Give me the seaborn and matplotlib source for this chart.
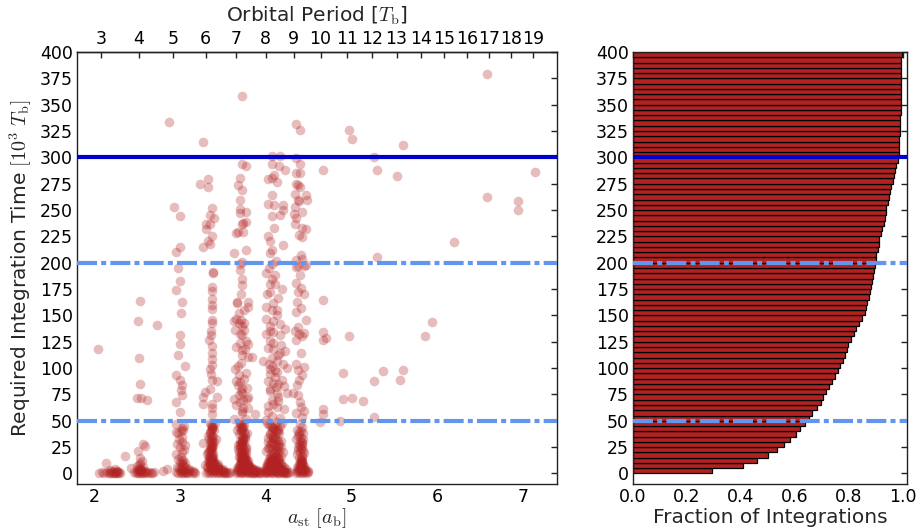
import numpy as np
import pandas as pd
import matplotlib
matplotlib.use("Agg")
import matplotlib.pyplot as plt
from matplotlib.ticker import MultipleLocator
import seaborn as sns

# ---------------- data ----------------
# group A (a ~ 2.0-2.35)
a_grpA = [2.06, 2.09, 2.12, 2.15, 2.17, 2.19, 2.20, 2.21, 2.22, 2.23, 2.24, 2.25, 2.26, 2.27, 2.28, 2.29, 2.30,
          2.18, 2.24, 2.14, 2.36, 2.04, 2.27]
t_grpA = [0, 1, 0, 1, 0, 0, 2, 0, 1, 0, 0, 2, 0, 1, 0, 1, 0,
          3, 4, 10, 17, 118, 2]

# group B (a ~ 2.4-2.75)
a_grpB = [2.47, 2.49, 2.50, 2.51, 2.52, 2.53, 2.54, 2.55, 2.56, 2.57, 2.58, 2.59, 2.60, 2.62, 2.64, 2.66, 2.68, 2.70,
          2.51, 2.53, 2.55, 2.57, 2.52, 2.54, 2.56, 2.50, 2.53, 2.43, 2.55, 2.52,
          2.51, 2.57, 2.59, 2.50, 2.55, 2.62, 2.53, 2.52, 2.51, 2.53, 2.73]
t_grpB = [1, 0, 2, 0, 1, 3, 0, 2, 0, 1, 0, 2, 1, 0, 1, 0, 0, 1,
          4, 5, 3, 6, 8, 10, 12, 7, 15, 5, 4, 3,
          21, 28, 26, 72, 72, 70, 85, 110, 145, 164, 141]

# group C (a ~ 2.9-3.2)
a_grpC = [2.96, 2.98, 3.00, 3.01, 3.02, 3.03, 3.04, 3.05, 3.06, 3.07, 3.08, 3.10, 3.12, 3.14, 3.16, 3.18,
          2.99, 3.01, 3.03, 3.05, 3.07, 3.09, 3.02, 3.04, 2.97, 3.00, 3.03, 3.06, 3.11, 3.15,
          2.98, 3.01, 3.04, 2.95, 3.02, 3.05, 3.00, 2.97, 3.03, 3.06, 2.99, 3.02, 2.96, 3.04, 3.01,
          2.98, 3.05, 2.95, 3.02, 2.85, 2.80,
          3.00, 2.96, 3.03, 3.00, 3.00, 3.06, 2.96, 3.00, 3.02, 3.03, 2.96, 3.00, 2.93, 3.00, 3.00,
          2.96, 2.87, 3.01, 2.98, 3.01, 2.98]
t_grpC = [1, 0, 2, 0, 1, 3, 0, 2, 1, 0, 1, 0, 2, 0, 1, 0,
          5, 6, 4, 7, 5, 3, 9, 8, 6, 11, 12, 10, 4, 2,
          14, 16, 13, 18, 20, 22, 25, 28, 30, 27, 33, 35, 39, 41, 40,
          38, 45, 47, 43, 4, 2,
          183, 174, 163, 131, 123, 102, 93, 89, 84, 74, 68, 58, 253, 244, 215,
          210, 334, 152, 112, 79, 195]

# group D (a ~ 3.25-3.6)
a_grpD = [3.23, 3.33, 3.33, 3.27, 3.37, 3.35, 3.40, 3.35, 3.31, 3.31, 3.37, 3.33, 3.35, 3.27, 3.39, 3.39,
          3.37, 3.37, 3.37, 3.37, 3.37, 3.37, 3.36, 3.37, 3.37, 3.35, 3.36, 3.37, 3.43, 3.35, 3.29, 3.27,
          3.43, 3.37, 3.27, 3.37, 3.37, 3.37, 3.38, 3.34, 3.36, 3.38,
          3.35, 3.36, 3.37, 3.38, 3.36, 3.35, 3.37, 3.39, 3.34, 3.36, 3.38, 3.35, 3.37, 3.27, 3.36,
          3.38, 3.35, 3.37, 3.33, 3.36, 3.39, 3.34, 3.37, 3.35, 3.38, 3.36, 3.33, 3.40, 3.37, 3.35,
          3.31, 3.33, 3.35, 3.37, 3.39, 3.41, 3.43, 3.45, 3.47, 3.49, 3.51, 3.53, 3.55, 3.57, 3.59,
          3.34, 3.36, 3.38, 3.40, 3.42, 3.44, 3.46, 3.48, 3.50, 3.52, 3.54, 3.33, 3.35, 3.37, 3.39,
          3.41, 3.43, 3.45, 3.47, 3.49, 3.36, 3.38, 3.40, 3.42, 3.44, 3.34, 3.36, 3.38, 3.40, 3.35,
          3.37, 3.39, 3.29, 3.32, 3.35, 3.38, 3.41, 3.44, 3.50,
          3.32, 3.34, 3.36, 3.38, 3.40, 3.42, 3.33, 3.35, 3.37, 3.39, 3.41, 3.34, 3.36, 3.38, 3.40,
          3.35, 3.37, 3.39, 3.36, 3.38]
t_grpD = [275, 279, 272, 315, 252, 245, 242, 237, 237, 232, 225, 221, 218, 215, 191, 190,
          177, 173, 166, 156, 146, 143, 131, 121, 109, 99, 94, 89, 88, 80, 77, 73,
          73, 66, 66, 62, 56, 103, 114, 127, 135, 160,
          48, 46, 44, 42, 40, 38, 36, 35, 33, 31, 30, 28, 27, 29, 25,
          24, 22, 21, 20, 19, 18, 17, 16, 15, 14, 13, 12, 12, 11, 10,
          0, 1, 0, 2, 0, 1, 0, 1, 0, 2, 0, 1, 0, 0, 1,
          3, 2, 4, 3, 2, 4, 3, 1, 2, 0, 1, 6, 5, 7, 6,
          5, 8, 6, 4, 3, 9, 8, 10, 7, 9, 11, 13, 12, 10, 15,
          14, 16, 8, 6, 9, 5, 7, 6, 4,
          18, 21, 24, 27, 30, 33, 36, 39, 42, 45, 48, 15, 23, 32, 41,
          9, 17, 26, 35, 44]

# group E (a ~ 3.62-3.96)
a_grpE = [3.73, 3.73, 3.77, 3.70, 3.68, 3.72, 3.70, 3.70, 3.70, 3.77, 3.72, 3.74, 3.77, 3.66, 3.68, 3.74,
          3.77, 3.63, 3.70, 3.73, 3.70, 3.73, 3.73, 3.67, 3.67, 3.80, 3.80, 3.66, 3.71, 3.75, 3.69, 3.63,
          3.64, 3.75, 3.73, 3.77, 3.80, 3.70, 3.66, 3.72, 3.80, 3.84, 3.64, 3.70, 3.68, 3.72, 3.78, 3.73,
          3.69, 3.78, 3.63, 3.70, 3.74, 3.80, 3.72, 3.88, 3.63, 3.70, 3.77, 3.71, 3.69, 3.75,
          3.66, 3.74, 3.71, 3.77, 3.68, 3.73, 3.76, 3.70, 3.73, 3.69, 3.75, 3.71, 3.72, 3.79, 3.66,
          3.70, 3.72, 3.74, 3.71, 3.73, 3.75, 3.69, 3.72, 3.74, 3.76, 3.70, 3.73, 3.71, 3.75, 3.68,
          3.72, 3.74, 3.70, 3.77, 3.73, 3.71, 3.69, 3.75, 3.72, 3.74, 3.70, 3.76, 3.73, 3.71, 3.78,
          3.66, 3.68, 3.70, 3.72, 3.74, 3.76, 3.78, 3.80, 3.82, 3.84, 3.86, 3.88, 3.90, 3.92, 3.94,
          3.96, 3.67, 3.69, 3.71, 3.73, 3.75, 3.77, 3.79, 3.81, 3.83, 3.85, 3.87, 3.89, 3.91, 3.93,
          3.68, 3.70, 3.72, 3.74, 3.76, 3.78, 3.80, 3.82, 3.84, 3.86, 3.88, 3.90, 3.69, 3.71, 3.73,
          3.75, 3.77, 3.79, 3.81, 3.83, 3.85, 3.70, 3.72, 3.74, 3.76, 3.78, 3.80, 3.82, 3.71, 3.73,
          3.75, 3.77, 3.79, 3.72, 3.74, 3.76, 3.73, 3.75, 3.71, 3.77,
          3.67, 3.69, 3.71, 3.73, 3.75, 3.77, 3.79, 3.81, 3.68, 3.70, 3.72, 3.74, 3.76, 3.78, 3.80,
          3.67, 3.69, 3.71, 3.73, 3.75, 3.77, 3.70, 3.72, 3.74, 3.76, 3.71, 3.73, 3.75, 3.69, 3.77]
t_grpE = [358, 294, 292, 280, 274, 269, 260, 251, 247, 248, 237, 238, 239, 228, 229, 229,
          212, 209, 199, 201, 193, 185, 179, 163, 162, 163, 158, 147, 146, 143, 143, 145,
          136, 136, 131, 126, 123, 124, 120, 117, 111, 111, 99, 87, 84, 81, 81, 76,
          74, 71, 71, 68, 62, 62, 57, 56, 52, 49, 52, 105, 93, 90,
          65, 70, 78, 95, 102, 112, 118, 132, 140, 152, 155, 170, 59, 73, 88,
          47, 45, 44, 42, 40, 39, 37, 36, 34, 33, 31, 30, 29, 28, 27,
          26, 25, 24, 23, 22, 21, 20, 19, 18, 17, 16, 15, 15, 14, 13,
          0, 1, 0, 1, 0, 2, 0, 1, 0, 0, 1, 0, 1, 0, 0,
          1, 2, 3, 1, 2, 3, 1, 2, 3, 1, 2, 0, 2, 1, 2,
          4, 5, 3, 4, 5, 3, 4, 5, 3, 4, 2, 3, 6, 7, 6,
          8, 7, 6, 5, 6, 4, 9, 8, 10, 9, 8, 7, 6, 11, 10,
          12, 11, 9, 13, 12, 14, 15, 16, 18, 17,
          5, 8, 11, 14, 17, 20, 9, 6, 23, 26, 29, 32, 35, 38, 12,
          41, 44, 47, 19, 22, 25, 28, 31, 34, 37, 40, 43, 46, 16, 10]

# group F (a ~ 3.97-4.3)
a_grpF = [4.07, 4.17, 4.07, 4.16, 4.23, 4.10, 4.03, 4.07, 4.13, 4.07, 4.03, 4.10, 4.20, 4.20, 4.17, 4.07,
          4.10, 4.03, 4.05, 4.20, 4.07, 4.05, 4.08, 4.12, 4.04,
          4.01, 4.07, 4.05, 4.05, 4.11, 4.15, 4.01, 4.07, 4.13, 4.01, 4.09, 4.17, 4.23, 4.05, 4.01, 4.09,
          4.17, 4.05, 4.03, 4.09, 4.17, 4.23, 3.97, 4.07, 4.13, 4.20, 4.25, 4.05, 4.11, 4.03, 4.09, 4.15,
          4.21, 4.05, 4.13, 4.25, 4.07, 4.15, 4.03, 4.13, 4.21, 4.07, 4.17, 4.01, 4.11, 4.04, 4.18, 4.02,
          4.03, 4.09, 4.15, 4.05, 4.12, 4.19, 4.05, 4.13, 4.07, 4.15, 4.09, 4.05, 4.13, 4.09, 4.19, 4.11,
          4.02, 4.04, 4.06, 4.08, 4.10, 4.12, 4.14, 4.16, 4.05, 4.07, 4.09, 4.11, 4.13, 4.15, 4.03,
          4.06, 4.09, 4.12, 4.15, 4.18, 4.04, 4.08, 4.12, 4.16, 4.20, 4.06, 4.10, 4.14, 4.18, 4.05,
          3.98, 4.00, 4.02, 4.04, 4.06, 4.08, 4.10, 4.12, 4.14, 4.16, 4.18, 4.20, 4.22, 4.24, 4.26,
          4.28, 3.99, 4.01, 4.03, 4.05, 4.07, 4.09, 4.11, 4.13, 4.15, 4.17, 4.19, 4.21, 4.23, 4.25,
          4.00, 4.02, 4.04, 4.06, 4.08, 4.10, 4.12, 4.14, 4.16, 4.18, 4.20, 4.22, 4.24, 4.01, 4.03,
          4.05, 4.07, 4.09, 4.11, 4.13, 4.15, 4.17, 4.19, 4.21, 4.02, 4.04, 4.06, 4.08, 4.10, 4.12,
          4.14, 4.16, 4.18, 4.03, 4.05, 4.07, 4.09, 4.11, 4.13, 4.15, 4.17, 4.04, 4.06, 4.08, 4.10,
          4.12, 4.14, 4.16,
          4.01, 4.03, 4.05, 4.07, 4.09, 4.11, 4.13, 4.15, 4.17, 4.19, 4.02, 4.04, 4.06, 4.08, 4.10,
          4.12, 4.14, 4.16, 4.18, 4.03, 4.05, 4.07, 4.09, 4.11, 4.13, 4.15, 4.06, 4.08, 4.10, 4.12]
t_grpF = [301, 301, 294, 292, 288, 283, 279, 280, 277, 264, 256, 255, 255, 250, 245, 244,
          233, 225, 221, 217, 212, 209, 199, 202, 195,
          190, 185, 180, 172, 180, 167, 158, 155, 155, 147, 145, 142, 137, 135, 132, 134,
          131, 126, 119, 118, 114, 116, 107, 110, 107, 104, 100, 99, 98, 88, 86, 85,
          83, 80, 76, 76, 70, 69, 64, 63, 61, 55, 53, 51, 92, 104, 122, 170,
          58, 66, 73, 78, 82, 89, 94, 96, 102, 112, 124, 140, 150, 162, 175, 188,
          48, 46, 45, 44, 42, 41, 40, 38, 37, 36, 35, 33, 32, 31, 30,
          29, 28, 27, 26, 25, 24, 23, 22, 21, 20, 19, 19, 18, 17, 16,
          0, 1, 0, 1, 0, 2, 0, 1, 0, 0, 1, 0, 1, 0, 0,
          1, 2, 1, 3, 2, 1, 3, 2, 1, 2, 3, 1, 2, 0, 1,
          4, 3, 5, 4, 3, 5, 4, 3, 5, 4, 3, 2, 4, 6, 7,
          6, 5, 7, 6, 8, 6, 5, 7, 6, 9, 8, 10, 9, 8, 9,
          10, 8, 9, 11, 12, 13, 12, 11, 13, 12, 11, 14, 15, 14, 13,
          16, 15, 14,
          21, 24, 27, 30, 33, 36, 39, 42, 45, 48, 7, 10, 13, 16, 19,
          22, 25, 28, 31, 34, 37, 40, 43, 46, 49, 5, 8, 11, 14, 17]

# group G (a ~ 4.3-4.52)
a_grpG = [4.36, 4.40, 4.36, 4.40, 4.36, 4.40, 4.35, 4.38, 4.40, 4.34, 4.47, 4.48, 4.38, 4.39, 4.34, 4.43,
          4.33, 4.36, 4.34, 4.42, 4.47, 4.39, 4.43, 4.41, 4.36, 4.42, 4.47, 4.36, 4.38, 4.45, 4.40, 4.36,
          4.41, 4.38, 4.45, 4.37, 4.41, 4.35, 4.47, 4.38, 4.34, 4.39, 4.45, 4.36, 4.42, 4.41, 4.36, 4.45,
          4.38, 4.43, 4.39, 4.37, 4.32, 4.38, 4.40, 4.41, 4.45, 4.36, 4.43,
          4.37, 4.39, 4.44, 4.38, 4.41, 4.36, 4.40, 4.43, 4.39, 4.42, 4.38, 4.41, 4.44, 4.40, 4.37,
          4.42, 4.39, 4.41, 4.43, 4.40,
          4.36, 4.38, 4.40, 4.42, 4.44, 4.46, 4.48, 4.50, 4.37, 4.39, 4.41, 4.43, 4.45, 4.47, 4.49,
          4.38, 4.40, 4.42, 4.44, 4.46, 4.39, 4.41, 4.43, 4.45, 4.40, 4.42, 4.44, 4.41, 4.43, 4.42,
          4.37, 4.39, 4.41, 4.43, 4.45, 4.38, 4.40, 4.42, 4.44, 4.39, 4.41, 4.43, 4.40, 4.42]
t_grpG = [332, 326, 299, 294, 285, 285, 275, 274, 272, 265, 264, 260, 260, 259, 253, 248,
          246, 242, 237, 233, 232, 226, 224, 207, 203, 204, 198, 196, 197, 197, 188, 181,
          176, 172, 170, 163, 157, 153, 146, 139, 135, 132, 133, 127, 130, 114, 104, 101,
          98, 93, 89, 84, 76, 74, 68, 63, 59, 57, 54,
          41, 39, 38, 36, 34, 33, 31, 30, 28, 27, 25, 23, 21, 20, 18,
          17, 15, 14, 12, 11,
          0, 1, 0, 1, 0, 1, 0, 1, 2, 3, 2, 3, 2, 3, 2,
          4, 5, 4, 5, 4, 6, 7, 6, 7, 8, 9, 8, 10, 11, 12,
          6, 9, 13, 16, 19, 22, 26, 29, 33, 37, 40, 44, 47, 24]

# scattered wide orbits
a_sparse = [4.67, 4.67, 4.67, 4.70, 4.67, 4.97, 4.90, 5.37, 5.60, 5.57, 5.27, 4.90, 5.01, 5.14,
            4.67, 4.67, 4.64, 4.87, 5.27, 5.86, 5.94, 6.20, 6.58, 7.14, 6.58, 6.94, 6.94,
            4.97, 5.01, 5.27, 5.30, 5.53, 5.60, 5.30]
t_sparse = [288, 165, 134, 129, 127, 130, 95, 97, 98, 89, 88, 71, 72, 69,
            61, 56, 49, 50, 54, 130, 144, 220, 379, 286, 262, 259, 250,
            326, 317, 300, 288, 282, 312, 205]

# cumulative fraction of integrations finished within each 5 kT_b bin
bin_lower = list(range(0, 400, 5))
cum_frac = [0.293, 0.406, 0.458, 0.501, 0.535, 0.559, 0.583, 0.605, 0.620, 0.636,
            0.651, 0.663, 0.681, 0.695, 0.705, 0.716, 0.727, 0.736, 0.750, 0.759,
            0.767, 0.777, 0.784, 0.791, 0.798, 0.807, 0.817, 0.827, 0.838, 0.848,
            0.858, 0.863, 0.868, 0.873, 0.877, 0.881, 0.885, 0.889, 0.891, 0.895,
            0.899, 0.902, 0.907, 0.911, 0.913, 0.918, 0.922, 0.928, 0.932, 0.936,
            0.939, 0.943, 0.948, 0.952, 0.957, 0.962, 0.966, 0.970, 0.975, 0.980,
            0.984, 0.985, 0.986, 0.987, 0.988, 0.989, 0.990, 0.990, 0.991, 0.991,
            0.992, 0.992, 0.993, 0.993, 0.993, 0.994, 0.994, 0.994, 0.994, 0.995]

period_ticks = [3, 4, 5, 6, 7, 8, 9, 10, 11, 12, 13, 14, 15, 16, 17, 18, 19]
ref_levels_dash = [50, 200]
ref_level_solid = 300

# ---------------- style ----------------
sns.set_theme(style="white")
plt.rcParams["font.family"] = ["DejaVu Sans"]
plt.rcParams["mathtext.fontset"] = "cm"
plt.rcParams["axes.edgecolor"] = "#222222"
plt.rcParams["axes.linewidth"] = 1.0

RED = "#b22222"
DASH_BLUE = "#6495ed"
SOLID_BLUE = "#0000cd"
TICK_FS = 12.5
LAB_FS = 14.5

df = pd.DataFrame({
    "a": a_grpA + a_grpB + a_grpC + a_grpD + a_grpE + a_grpF + a_grpG + a_sparse,
    "t": t_grpA + t_grpB + t_grpC + t_grpD + t_grpE + t_grpF + t_grpG + t_sparse,
})

W, H = 917, 529
fig = plt.figure(figsize=(W / 100, H / 100), dpi=100)
ax = fig.add_axes([77 / W, 1 - 484 / H, (557 - 77) / W, (484 - 52) / H])
axh = fig.add_axes([633 / W, 1 - 484 / H, (907 - 633) / W, (484 - 52) / H])

# ---- scatter panel ----
sns.scatterplot(data=df, x="a", y="t", ax=ax, color=RED, alpha=0.3, s=48,
                linewidth=0, legend=False, zorder=2)
dash_pat = (4.8, 1.0, 1.2, 1.0)
for lv in ref_levels_dash:
    ax.axhline(lv, color=DASH_BLUE, lw=3, dashes=dash_pat, zorder=3)
ax.axhline(ref_level_solid, color=SOLID_BLUE, lw=3, zorder=3)

ax.set_xlim(1.8, 7.4)
ax.set_ylim(-10, 400)
ax.set_xticks([2, 3, 4, 5, 6, 7])
ax.set_yticks(list(range(0, 401, 25)))
ax.tick_params(direction="in", which="both", top=False, right=True, length=4,
               width=1, labelsize=TICK_FS, pad=3, colors="#222222", labelcolor="black")
ax.set_xlabel(r"$a_{\rm st}\ [a_{\rm b}]$", fontsize=LAB_FS, labelpad=0)
ax.set_ylabel(r"Required Integration Time $[10^3\ T_{\rm b}]$", fontsize=LAB_FS, labelpad=4)


def a_to_p(a):
    return np.abs(a) ** 1.5


def p_to_a(p):
    return np.abs(p) ** (2.0 / 3.0)


sec = ax.secondary_xaxis("top", functions=(a_to_p, p_to_a))
sec.set_xticks(period_ticks)
sec.set_xticklabels([str(p) for p in period_ticks])
sec.tick_params(direction="in", length=4, width=1, labelsize=TICK_FS, pad=3,
                colors="#222222", labelcolor="black")
sec.set_xlabel(r"Orbital Period [$T_{\rm b}$]", fontsize=LAB_FS, labelpad=6)

# ---- cumulative histogram panel ----
edges = list(range(0, 405, 5))
sns.histplot(y=bin_lower, weights=cum_frac, bins=edges, ax=axh, color=RED,
             edgecolor="black", linewidth=0.9, alpha=1.0, zorder=2)
for lv in ref_levels_dash:
    axh.axhline(lv, color=DASH_BLUE, lw=3, dashes=dash_pat, zorder=4)
axh.axhline(ref_level_solid, color=SOLID_BLUE, lw=3, zorder=4)

axh.set_xlim(0, 1.015)
axh.set_ylim(-10, 400)
axh.set_yticks(list(range(0, 401, 25)))
axh.set_xticks([0.0, 0.2, 0.4, 0.6, 0.8, 1.0])
axh.xaxis.set_minor_locator(MultipleLocator(0.1))
axh.tick_params(direction="in", which="both", top=True, right=True, width=1,
                labelsize=TICK_FS, pad=3, colors="#222222", labelcolor="black")
axh.tick_params(which="major", length=4)
axh.tick_params(which="minor", length=2)
axh.set_xlabel("Fraction of Integrations", fontsize=LAB_FS, labelpad=1)
axh.set_ylabel("")

fig.savefig("out.png", dpi=100)
